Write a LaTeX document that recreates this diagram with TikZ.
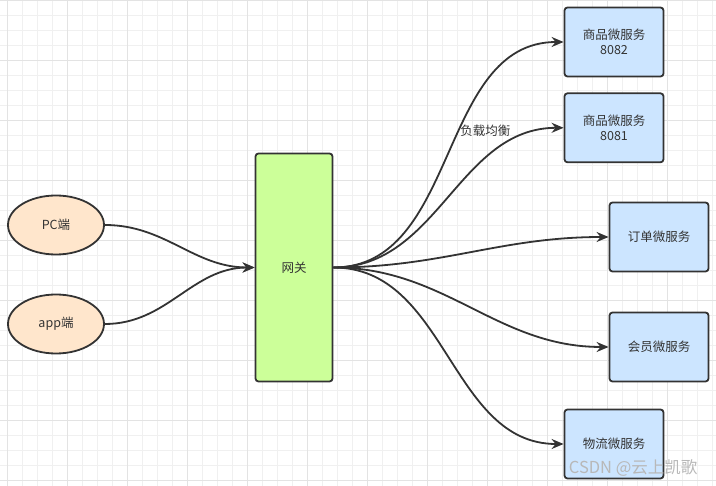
\documentclass[tikz,border=0pt]{standalone}
\usepackage{fontspec}
\newfontfamily\cjk{Noto Sans CJK SC}
\usetikzlibrary{positioning,arrows.meta,shapes.geometric}
\definecolor{edgegray}{HTML}{333333}
\definecolor{clientfill}{HTML}{FFE6CC}
\definecolor{gatefill}{HTML}{CCFF99}
\definecolor{svcfill}{HTML}{CCE5FF}
\tikzset{
  client/.style={ellipse, draw=edgegray, line width=1.8pt, fill=clientfill,
    minimum width=96pt, minimum height=59pt, font=\cjk\fontsize{12.5}{14}\selectfont, text=edgegray},
  gateway/.style={rectangle, rounded corners=3pt, draw=edgegray, line width=1.8pt, fill=gatefill,
    minimum width=77pt, minimum height=228pt, font=\cjk\fontsize{12.5}{14}\selectfont, text=edgegray},
  service/.style={rectangle, rounded corners=3pt, draw=edgegray, line width=1.8pt, fill=svcfill,
    minimum width=99pt, minimum height=69pt, align=center,
    font=\cjk\fontsize{12.5}{15}\selectfont, text=edgegray},
  flow/.style={draw=edgegray, line width=1.8pt, -{Stealth[length=12pt,width=10pt]}},
  lbl/.style={font=\cjk\fontsize{12.5}{14}\selectfont, text=edgegray, inner sep=0pt}
}

\begin{document}
\begin{tikzpicture}[x=1pt, y=-1pt]
  \useasboundingbox (0,0) rectangle (716,486);
  % grid
  \foreach \gx in {7,22,...,716} \draw[black!6, line width=0.8pt] (\gx,0) -- (\gx,486);
  \foreach \gy in {0,15,...,486} \draw[black!6, line width=0.8pt] (0,\gy) -- (716,\gy);
  \foreach \gx in {7,67,...,716} \draw[black!11, line width=0.8pt] (\gx,0) -- (\gx,486);
  \foreach \gy in {0,60,...,486} \draw[black!11, line width=0.8pt] (0,\gy) -- (716,\gy);

  % clients and gateway
  \node[client] (pc) at (56,225) {PC端};
  \node[client] (app) at (56,324) {app端};
  \node[gateway] (gw) at (294,267.5) {网关};

  % services
  \node[service] (s8082) at (614,42) {商品微服务\\8082};
  \node[service, below=15pt of s8082] (s8081) {商品微服务\\8081};
  \node[service] (order) at (659,237) {订单微服务};
  \node[service] (member) at (659,347) {会员微服务};
  \node[service] (logis) at (614,444) {物流微服务};

  % connectors
  \draw[flow] (pc.east) to[out=0, in=180] (gw.west);
  \draw[flow] (app.east) to[out=0, in=180] (gw.west);
  \draw[flow] (gw.east) to[out=0, in=180]
    node[pos=0.57, anchor=west, lbl] {负载均衡} (s8082.west);
  \draw[flow] (gw.east) to[out=0, in=180] (s8081.west);
  \draw[flow] (gw.east) to[out=0, in=180] (order.west);
  \draw[flow] (gw.east) to[out=0, in=180] (member.west);
  \draw[flow] (gw.east) to[out=0, in=180] (logis.west);

  % watermark
  \node[font=\cjk\fontsize{16.5}{18}\selectfont, text=black!28, anchor=east] (mark) at (701,468) {CSDN @云上凯歌};
\end{tikzpicture}
\end{document}
